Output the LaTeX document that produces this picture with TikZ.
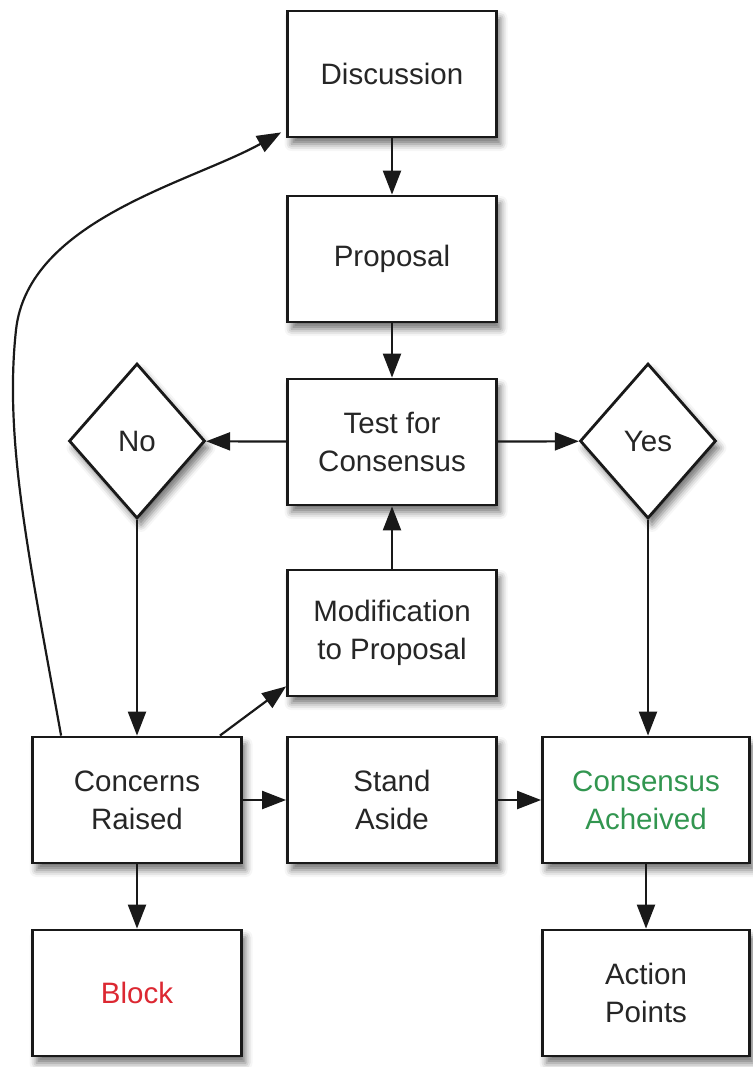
\documentclass[tikz,border=0pt]{standalone}
\usepackage{fontspec}
\setmainfont{Liberation Sans}
\usetikzlibrary{shapes.geometric,arrows.meta,shadows.blur}
\definecolor{okgreen}{RGB}{50,150,80}
\definecolor{blockred}{RGB}{220,40,50}
\tikzset{
  box/.style={draw=black!90, line width=2.8pt, fill=white, minimum width=209pt, minimum height=126pt,
    inner sep=0pt, align=center, font=\fontsize{29.5}{38}\selectfont, text=black!85,
    blur shadow={shadow xshift=4pt, shadow yshift=-7pt, shadow blur radius=7pt, shadow opacity=55}},
  dia/.style={draw=black!90, line width=2.8pt, fill=white, shape=diamond, minimum width=136pt,
    minimum height=155pt, inner sep=0pt, font=\fontsize{29.5}{38}\selectfont, text=black!85,
    blur shadow={shadow xshift=4pt, shadow yshift=-7pt, shadow blur radius=7pt, shadow opacity=55}},
  arr/.style={draw=black!90, line width=2.2pt, -{Triangle[length=24pt,width=18pt]}}
}
\begin{document}
\begin{tikzpicture}[x=1pt,y=-1pt]
\useasboundingbox (0,0) rectangle (752,1067);
\node[box] (disc) at (392,74) {Discussion};
\node[box] (prop) at (392,259) {Proposal};
\node[box] (test) at (392,442) {Test for\\Consensus};
\node[box] (mod) at (392,633) {Modification\\to Proposal};
\node[box] (cr) at (137,800) {Concerns\\Raised};
\node[box] (sa) at (392,800) {Stand\\Aside};
\node[box, text=okgreen, minimum width=207pt] (ca) at (646,800) {Consensus\\Acheived};
\node[box, text=blockred] (blk) at (137,993) {Block};
\node[box, minimum width=207pt] (ap) at (646,993) {Action\\Points};
\node[dia] (no) at (137,441) {No};
\node[dia] (yes) at (648,441) {Yes};

\draw[arr] (disc) -- (prop);
\draw[arr] (prop) -- (test);
\draw[arr] (test) -- (no);
\draw[arr] (test) -- (yes);
\draw[arr] (mod) -- (test);
\draw[arr] (no) -- (cr);
\draw[arr] (yes.south) -- (ca.north -| yes.south);
\draw[arr] ([xshift=-23pt]cr.north east) -- ([yshift=11pt]mod.south west);
\draw[arr] (cr) -- (sa);
\draw[arr] (sa) -- (ca);
\draw[arr] (cr) -- (blk);
\draw[arr] (ca) -- (ap);
\draw[arr] ([xshift=30pt]cr.north west) .. controls +(-32,-178) and +(-12,110) .. (16,330)
  .. controls +(12,-110) and +(-90,50) .. ([xshift=-5pt,yshift=6pt]disc.south west);
\end{tikzpicture}
\end{document}
